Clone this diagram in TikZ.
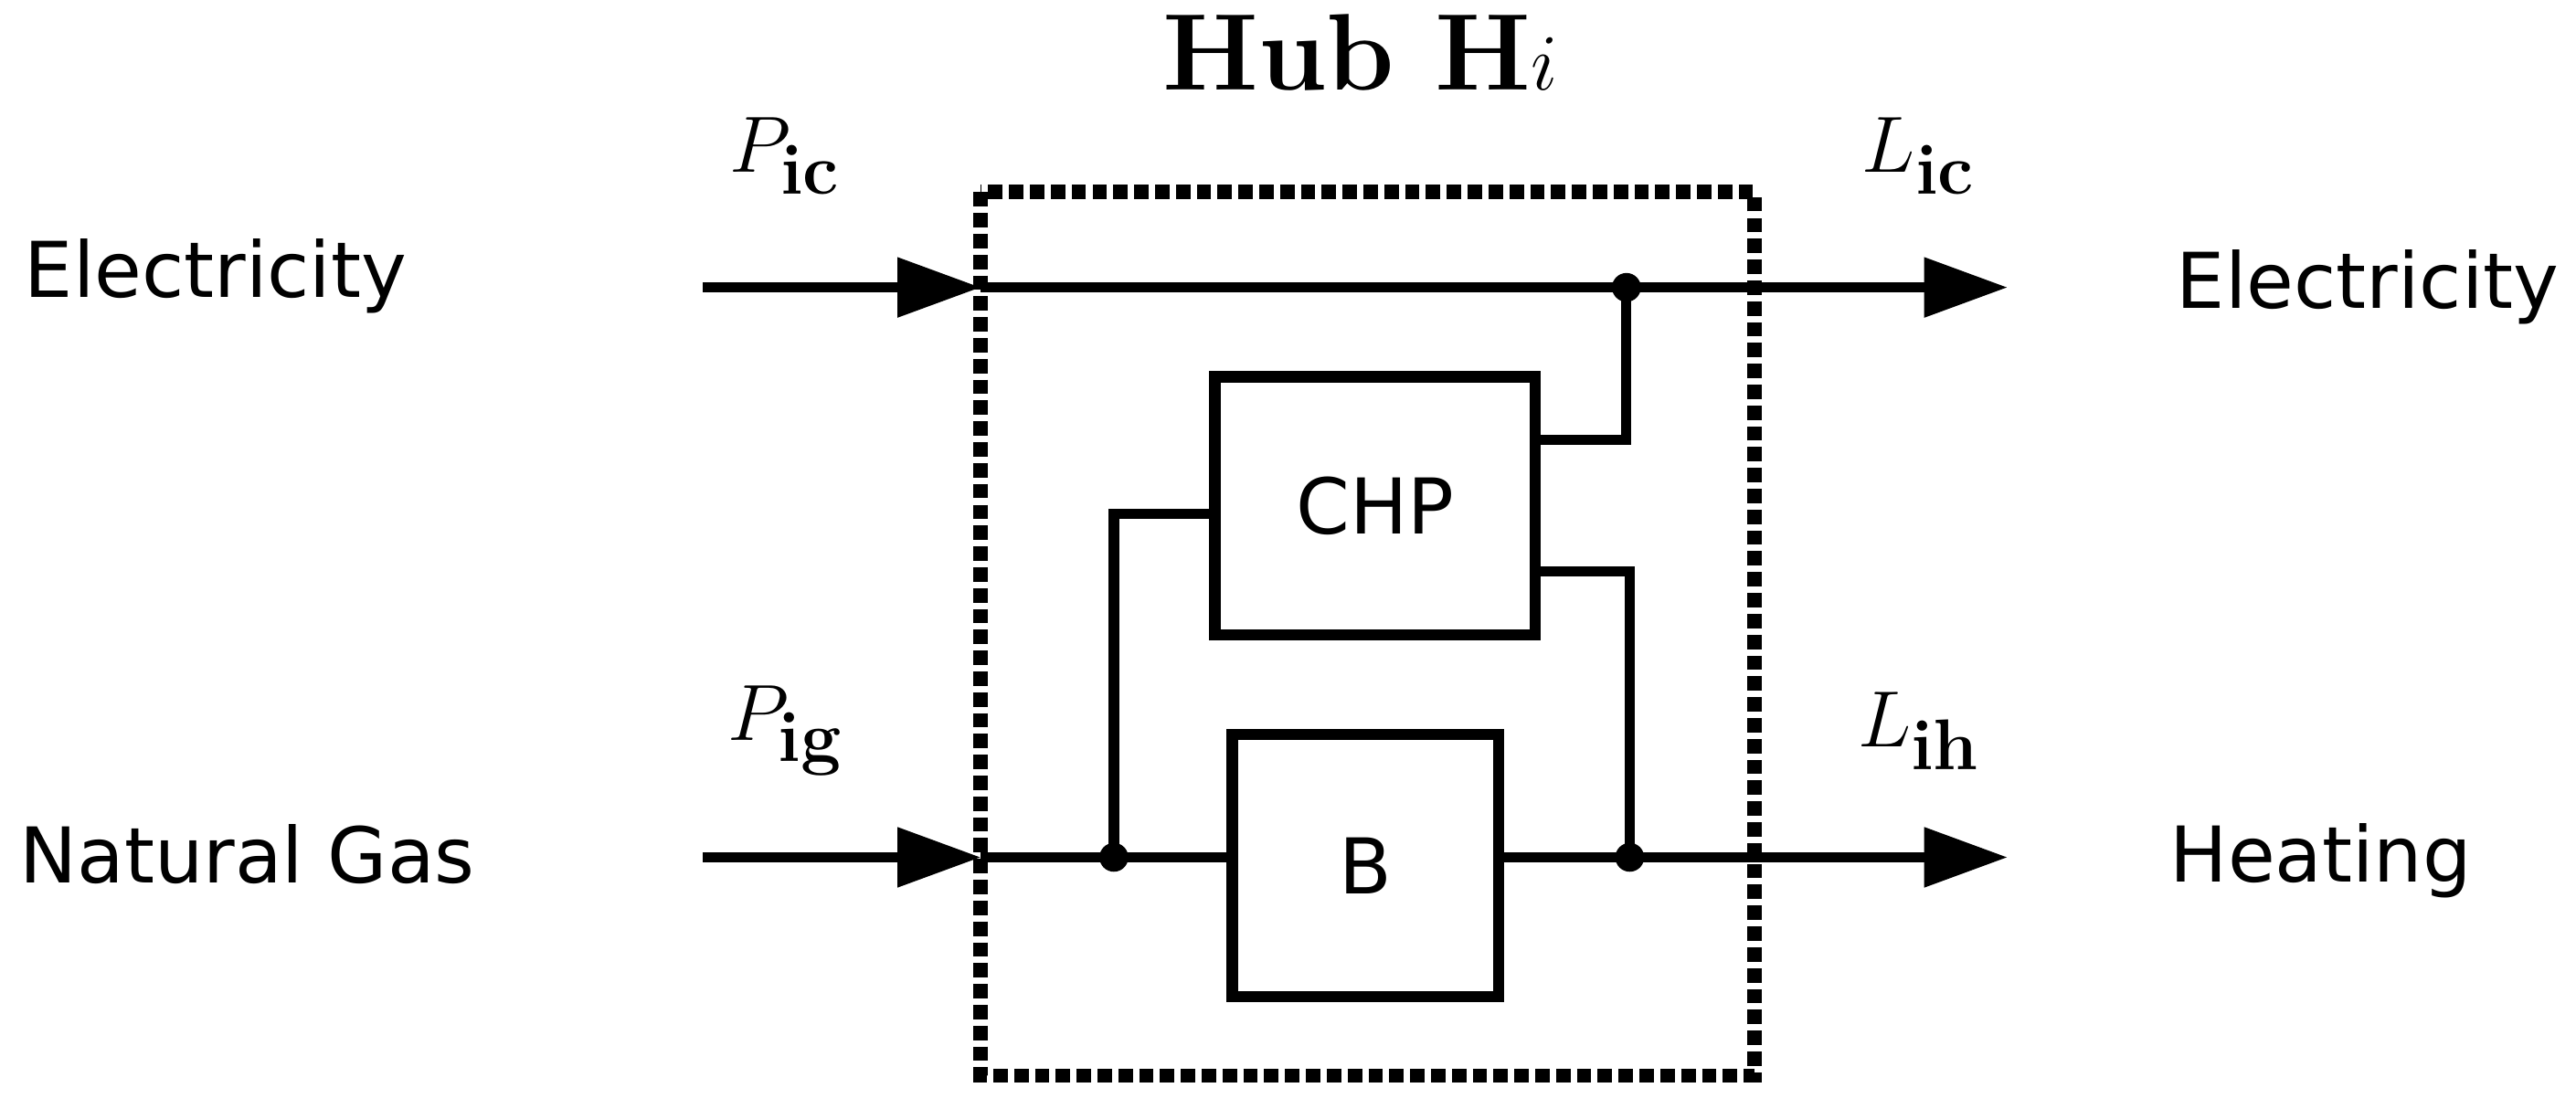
\documentclass[tikz,border=0pt]{standalone}
\usepackage{fontspec}
\setmainfont{Latin Modern Roman}
\newfontfamily\sansf{DejaVu Sans}
\usetikzlibrary{arrows.meta}
\begin{document}
\begin{tikzpicture}[x=0.018cm,y=-0.018cm,
  ln/.style={line width=3.2pt},
  arr/.style={ln,-{Triangle[length=26pt,width=18pt]}},
  lab/.style={font=\sansf\fontsize{24}{28}\selectfont},
  mlab/.style={font=\fontsize{32}{36}\selectfont},
  dot/.style={circle,fill,inner sep=0pt,minimum size=9pt}]
\useasboundingbox (0,0) rectangle (1568,675);
\draw[line width=4.5pt,dotted] (597,117) rectangle (1068,655);
\node[draw,line width=3.5pt,minimum width=195*0.018cm,minimum height=157*0.018cm,font=\sansf\fontsize{24}{28}\selectfont] (chp) at (837,308) {CHP};
\node[draw,line width=3.5pt,minimum width=162*0.018cm,minimum height=160*0.018cm,font=\sansf\fontsize{24}{28}\selectfont] (b) at (831,527) {B};
\coordinate (ein) at (428,175);
\coordinate (eb) at (597,175);
\coordinate (eout) at (1222,175);
\coordinate (gin) at (428,522);
\coordinate (gb) at (597,522);
\coordinate (hout) at (1222,522);
\node[dot] (de) at (990,175) {};
\node[dot] (dg) at (678,522) {};
\node[dot] (dh) at (992,522) {};
\draw[arr] (ein) -- (eb);
\draw[arr] (eb) -- (eout);
\draw[arr] (gin) -- (gb);
\draw[ln] (gb) -- (b.west |- gb);
\draw[arr] (b.east |- hout) -- (hout);
\draw[ln] (dg.center) |- (chp.west |- 0,313);
\draw[ln] (chp.east |- 0,268) -| (de.center);
\draw[ln] (chp.east |- 0,348) -| (dh.center);
\node[lab,anchor=west] (l1) at (8,168) {Electricity};
\node[lab,anchor=west] (l2) at (5,520) {Natural Gas};
\node[lab,anchor=west] (l3) at (1318,175) {Electricity};
\node[lab,anchor=west] (l4) at (1314,524) {Heating};
\node[mlab] (pic) at (478,95) {$P_{\mathbf{ic}}$};
\node[mlab] (pig) at (478,445) {$P_{\mathbf{ig}}$};
\node[mlab] (lic) at (1168,95) {$L_{\mathbf{ic}}$};
\node[mlab] (lih) at (1168,445) {$L_{\mathbf{ih}}$};
\node[font=\fontsize{34}{40}\selectfont] (hub) at (828,32) {\textbf{Hub H}$i$};
\end{tikzpicture}
\end{document}
